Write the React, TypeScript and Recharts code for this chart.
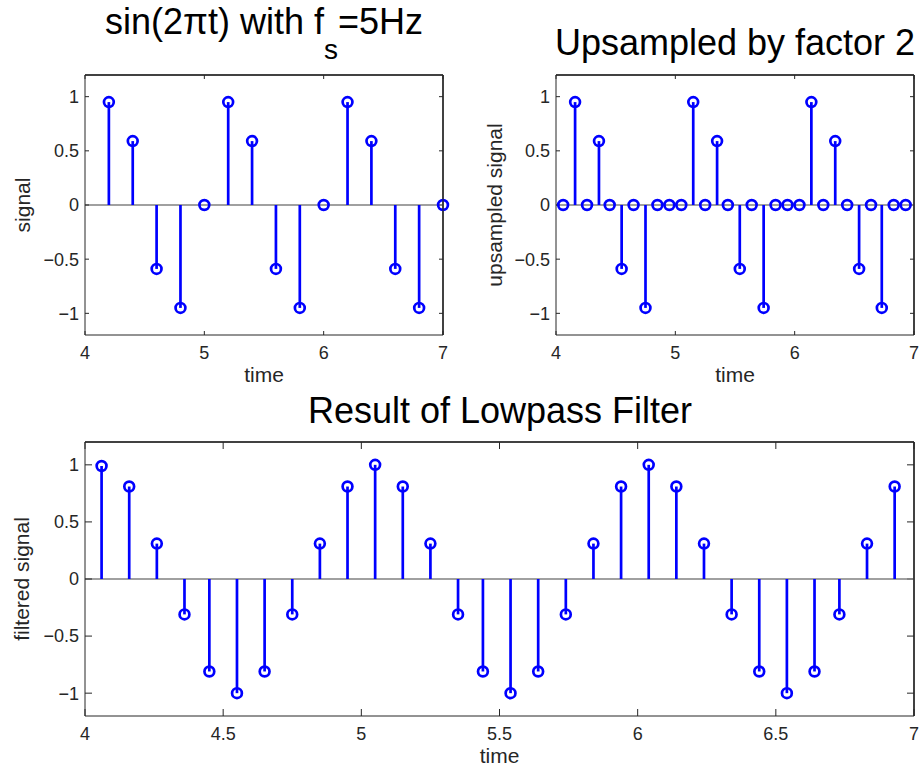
import { ScatterChart, Scatter, XAxis, YAxis, ReferenceLine } from 'recharts';

const FONT = '"Liberation Sans", Arial, Helvetica, sans-serif';
const INK = '#262626';
const BLUE = '#0000ff';

// sampled signal, fs = 5 Hz
const origTime = [4.2, 4.4, 4.6, 4.8, 5.0, 5.2, 5.4, 5.6, 5.8, 6.0, 6.2, 6.4, 6.6, 6.8, 7.0];
const origSignal = [0.95, 0.59, -0.59, -0.95, 0, 0.95, 0.59, -0.59, -0.95, 0, 0.95, 0.59, -0.59, -0.95, 0];

// upsampled / filtered share the same time grid
const upTime = [
  4.06, 4.16, 4.26, 4.36, 4.45, 4.55, 4.65, 4.75, 4.85, 4.95,
  5.05, 5.15, 5.25, 5.35, 5.44, 5.54, 5.64, 5.74, 5.84, 5.94,
  6.04, 6.14, 6.24, 6.34, 6.44, 6.54, 6.64, 6.73, 6.83, 6.93,
];
const upSignal = [
  0, 0.95, 0, 0.59, 0, -0.59, 0, -0.95, 0, 0,
  0, 0.95, 0, 0.59, 0, -0.59, 0, -0.95, 0, 0,
  0, 0.95, 0, 0.59, 0, -0.59, 0, -0.95, 0, 0,
];
const filteredSignal = [
  0.99, 0.81, 0.31, -0.31, -0.81, -1, -0.81, -0.31, 0.31, 0.81,
  1, 0.81, 0.31, -0.31, -0.81, -1, -0.81, -0.31, 0.31, 0.81,
  1, 0.81, 0.31, -0.31, -0.81, -1, -0.81, -0.31, 0.31, 0.81,
];

const yTicks = [-1, -0.5, 0, 0.5, 1];
const xTicksTop = [4, 5, 6, 7];
const xTicksBottom = [4, 4.5, 5, 5.5, 6, 6.5, 7];

const fmtY = (v: number) => String(v).replace('-', '\u2212');
const noLabel = () => '';

const Marker = (props: any) => {
  const { cx, cy } = props;
  if (cx == null || cy == null) return null;
  return <circle cx={cx} cy={cy} r={4.9} fill="none" stroke={BLUE} strokeWidth={2.7} />;
};

// inward tick marks on the top / right edges of the box
const topTick = (len: number) => (p: any) => {
  const y = Math.min(p.y1, p.y2);
  return <line x1={p.x1} x2={p.x1} y1={y} y2={y + len} stroke={INK} strokeWidth={1} />;
};
const rightTick = (len: number) => (p: any) => {
  const x = Math.max(p.x1, p.x2);
  return <line x1={x - len} x2={x} y1={p.y1} y2={p.y1} stroke={INK} strokeWidth={1} />;
};

interface StemProps {
  width: number;
  height: number;
  margin: { top: number; right: number; bottom: number; left: number };
  time: number[];
  values: number[];
  xTicks: number[];
  yLabel: string;
  yLabelOffset: number;
  yAxisWidth: number;
  xAxisHeight: number;
  xLabelOffset: number;
  tickLen: number;
}

function StemChart({
  width, height, margin, time, values, xTicks, yLabel, yLabelOffset, yAxisWidth, xAxisHeight, xLabelOffset, tickLen,
}: StemProps) {
  const data = time.map((t, i) => ({ t, v: values[i] }));
  const tickStyle = { fontSize: 18, fill: INK, fontFamily: FONT };
  return (
    <ScatterChart width={width} height={height} margin={margin}>
      <XAxis
        type="number" dataKey="t" domain={[4, 7]} ticks={xTicks}
        tick={tickStyle} tickSize={-tickLen} tickMargin={tickLen + 11} height={xAxisHeight}
        stroke={INK}
        label={{ value: 'time', position: 'insideBottom', offset: xLabelOffset, fontSize: 21, fill: INK, fontFamily: FONT }}
      />
      <XAxis
        xAxisId="top" orientation="top" type="number" dataKey="t" domain={[4, 7]}
        height={10} stroke={INK} tickLine={false} tickFormatter={noLabel}
      />
      <YAxis
        type="number" dataKey="v" domain={[-1.2, 1.2]} ticks={yTicks}
        tick={tickStyle} tickSize={-tickLen} tickMargin={tickLen + 6} width={yAxisWidth}
        tickFormatter={fmtY} stroke={INK}
        label={{
          value: yLabel, angle: -90, position: 'insideLeft', offset: yLabelOffset,
          fontSize: 21, fill: INK, fontFamily: FONT, style: { textAnchor: 'middle' },
        }}
      />
      <YAxis
        yAxisId="right" orientation="right" type="number" dataKey="v" domain={[-1.2, 1.2]}
        width={10} stroke={INK} tickLine={false} tickFormatter={noLabel}
      />
      <ReferenceLine y={1.2} stroke={INK} strokeWidth={1} />
      <ReferenceLine x={7} stroke={INK} strokeWidth={1} />
      {xTicks.map(t => <ReferenceLine key={'tx' + t} x={t} shape={topTick(tickLen)} />)}
      {yTicks.map(v => <ReferenceLine key={'ty' + v} y={v} shape={rightTick(tickLen)} />)}
      <ReferenceLine y={0} stroke="#808080" strokeWidth={1.5} />
      {data.filter(d => d.v !== 0).map(d => (
        <ReferenceLine
          key={d.t}
          segment={[{ x: d.t, y: 0 }, { x: d.t, y: d.v }]}
          stroke={BLUE} strokeWidth={2.7}
        />
      ))}
      <Scatter data={data} shape={Marker} isAnimationActive={false} />
      <Scatter data={data} xAxisId="top" yAxisId="right" fill="none" isAnimationActive={false} />
    </ScatterChart>
  );
}

// plot-box frames (top + right edges), [left, top, right, bottom]
const frames = [
  [85, 75, 443, 335],
  [556, 75, 914, 335],
  [85, 442, 914, 716],
];

export default function App() {
  return (
    <div style={{ position: 'absolute', left: 0, top: 0, width: 919, height: 768, background: '#fff', fontFamily: FONT, overflow: 'hidden' }}>
      <svg width={919} height={768} style={{ position: 'absolute', left: 0, top: 0 }}>
        <text x={264} y={34} textAnchor="middle" fontSize={36} fill="#000" fontFamily={FONT}>
          sin(2πt) with f<tspan dy={25} fontSize={28}>s</tspan><tspan dy={-25} fontSize={36}>=5Hz</tspan>
        </text>
        <text x={735} y={55} textAnchor="middle" fontSize={36} fill="#000" fontFamily={FONT}>
          Upsampled by factor 2
        </text>
        <text x={500} y={423} textAnchor="middle" fontSize={36} fill="#000" fontFamily={FONT}>
          Result of Lowpass Filter
        </text>
      </svg>
      <div style={{ position: 'absolute', left: 0, top: 0 }}>
        <StemChart
          width={460} height={390} margin={{ top: 65, right: 7, bottom: 0, left: 0 }}
          time={origTime} values={origSignal} xTicks={xTicksTop}
          yLabel="signal" yLabelOffset={23} yAxisWidth={85} xAxisHeight={55} xLabelOffset={8} tickLen={4}
        />
      </div>
      <div style={{ position: 'absolute', left: 460, top: 0 }}>
        <StemChart
          width={464} height={390} margin={{ top: 65, right: 0, bottom: 0, left: 0 }}
          time={upTime} values={upSignal} xTicks={xTicksTop}
          yLabel="upsampled signal" yLabelOffset={35} yAxisWidth={96} xAxisHeight={55} xLabelOffset={8} tickLen={4}
        />
      </div>
      <div style={{ position: 'absolute', left: 0, top: 390 }}>
        <StemChart
          width={924} height={378} margin={{ top: 42, right: 0, bottom: 0, left: 0 }}
          time={upTime} values={filteredSignal} xTicks={xTicksBottom}
          yLabel="filtered signal" yLabelOffset={22} yAxisWidth={85} xAxisHeight={52} xLabelOffset={5} tickLen={7}
        />
      </div>
      <svg width={919} height={768} style={{ position: 'absolute', left: 0, top: 0, pointerEvents: 'none' }}>
        {frames.map(([l, t, r, b], i) => (
          <polyline key={i} points={`${l},${t} ${r},${t} ${r},${b}`} fill="none" stroke={INK} strokeWidth={1} />
        ))}
      </svg>
    </div>
  );
}
